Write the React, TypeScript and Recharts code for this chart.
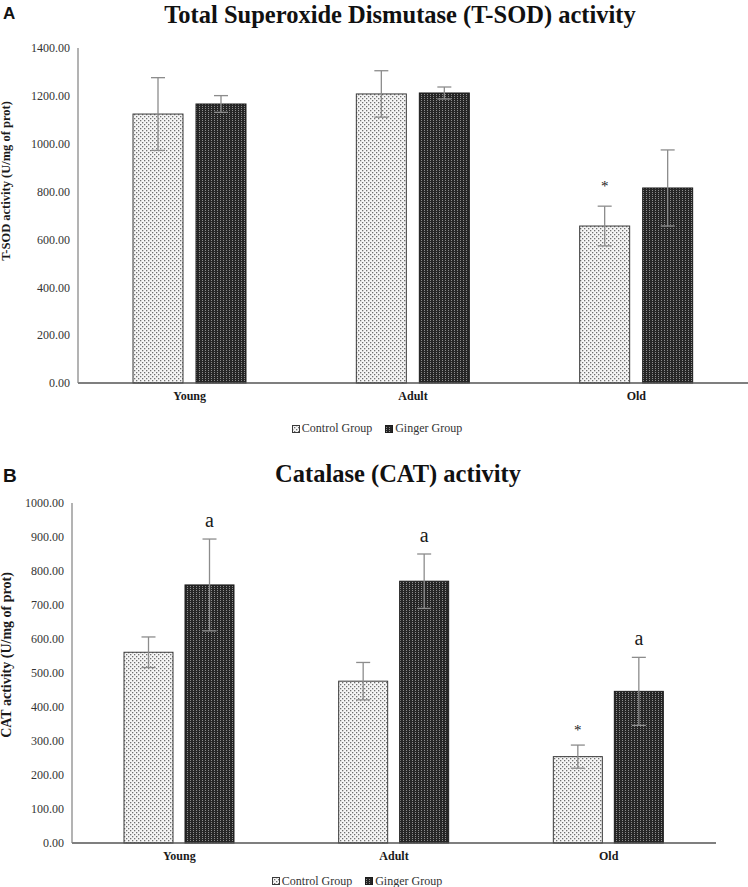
import React from 'react';
import { BarChart, Bar, XAxis, YAxis, ErrorBar, Legend } from 'recharts';

const categories = ['Young', 'Adult', 'Old'];
const seriesNames = ['Control Group', 'Ginger Group'];

const sodControl = [1124, 1208, 656];
const sodControlErr = [152, 97, 83];
const sodGinger = [1166, 1212, 815];
const sodGingerErr = [35, 25, 159];
const sodControlMarks = ['', '', '*'];
const sodGingerMarks = ['', '', ''];
const sodTicks = [0, 200, 400, 600, 800, 1000, 1200, 1400];

const catControl = [561, 476, 254];
const catControlErr = [45, 55, 34];
const catGinger = [759, 770, 446];
const catGingerErr = [135, 80, 100];
const catControlMarks = ['', '', '*'];
const catGingerMarks = ['a', 'a', 'a'];
const catTicks = [0, 100, 200, 300, 400, 500, 600, 700, 800, 900, 1000];

const SERIF = "'Liberation Serif', 'Times New Roman', serif";
const SANS = "'Liberation Sans', Arial, sans-serif";

function buildRows(c: number[], ce: number[], g: number[], ge: number[], cm: string[], gm: string[]) {
  return categories.map((name, i) => ({
    name,
    control: c[i],
    controlErr: ce[i],
    ginger: g[i],
    gingerErr: ge[i],
    controlMark: cm[i],
    gingerMark: gm[i],
  }));
}

const sodRows = buildRows(sodControl, sodControlErr, sodGinger, sodGingerErr, sodControlMarks, sodGingerMarks);
const catRows = buildRows(catControl, catControlErr, catGinger, catGingerErr, catControlMarks, catGingerMarks);

const FILLS = ['url(#pCtrl)', 'url(#pGinger)'];
const STROKES = ['#3a3a3a', '#1c1c1c'];

const makeShape = (
  fill: string,
  stroke: string,
  valueKey: string,
  errKey: string,
  markKey: string,
  starGap: number,
  letterGap: number
) => (props: any) => {
  const { x, y, width, height, payload } = props;
  const value = payload[valueKey];
  const err = payload[errKey];
  const mark = payload[markKey];
  const errTop = value ? y - (err * height) / value : y;
  const isStar = mark === '*';
  return (
    <g>
      <rect x={x} y={y} width={width} height={height} fill={fill} stroke={stroke} strokeWidth={1} />
      {mark ? (
        <text
          x={x + width / 2}
          y={errTop - (isStar ? starGap : letterGap)}
          textAnchor="middle"
          fontFamily={SERIF}
          fontSize={isStar ? 15 : 20}
          fill="#1a1a1a"
        >
          {mark}
        </text>
      ) : null}
    </g>
  );
};

const LegendBox = ({ shift, height }: { shift: number; height: number }) => (
  <div
    style={{
      display: 'flex',
      justifyContent: 'center',
      alignItems: 'center',
      height,
      transform: `translateX(${shift}px)`,
      fontFamily: SERIF,
      fontSize: 12,
      color: '#333',
      lineHeight: `${height}px`,
    }}
  >
    {seriesNames.map((n, i) => (
      <div key={n} style={{ display: 'flex', alignItems: 'center', marginRight: i === 0 ? 13 : 0 }}>
        <svg width={8} height={8} style={{ marginRight: 2 }}>
          <rect x={0.5} y={0.5} width={7} height={7} fill={FILLS[i]} stroke={STROKES[i]} strokeWidth={1} />
        </svg>
        <span>{n}</span>
      </div>
    ))}
  </div>
);

const axisLabel = (text: string, x: number, y: number, size: number) => ({
  content: () => (
    <text
      x={x}
      y={y}
      transform={`rotate(-90 ${x} ${y})`}
      textAnchor="middle"
      fontFamily={SERIF}
      fontWeight="bold"
      fontSize={size}
      fill="#1a1a1a"
    >
      {text}
    </text>
  ),
});

const tickStyle = { fontFamily: SERIF, fontSize: 12, fill: '#333' };
const catTickStyle = { fontFamily: SERIF, fontSize: 12, fill: '#1a1a1a', fontWeight: 'bold' as const };

export default function App() {
  return (
    <div style={{ position: 'absolute', left: 0, top: 0, width: 748, height: 887, overflow: 'hidden', background: '#fff' }}>
      <svg width={0} height={0} style={{ position: 'absolute' }}>
        <defs>
          <pattern id="pCtrl" width={4} height={4} patternUnits="userSpaceOnUse">
            <rect width={4} height={4} fill="#f6f6f6" />
            <rect x={0} y={0} width={1.3} height={1.3} fill="#707070" />
            <rect x={2} y={2} width={1.3} height={1.3} fill="#707070" />
          </pattern>
          <pattern id="pGinger" width={3} height={2} patternUnits="userSpaceOnUse">
            <rect width={3} height={2} fill="#262626" />
            <rect x={1} y={0} width={1} height={1} fill="#8c8c8c" />
          </pattern>
        </defs>
      </svg>

      <div style={{ position: 'absolute', left: 0, top: 0 }}>
        <BarChart width={748} height={445} data={sodRows} margin={{ top: 48, right: 0, left: 0, bottom: 4 }} barGap={13}>
          <XAxis
            dataKey="name"
            height={33}
            tickLine={false}
            axisLine={{ stroke: '#555', strokeWidth: 1.3 }}
            tick={catTickStyle}
            interval={0}
          />
          <YAxis
            width={78}
            domain={[0, 1400]}
            ticks={sodTicks}
            interval={0}
            tickFormatter={(v: number) => v.toFixed(2)}
            tickLine={false}
            axisLine={{ stroke: '#808080', strokeWidth: 1.2 }}
            tick={tickStyle}
            label={axisLabel('T-SOD activity (U/mg of prot)', 10, 181, 12.5)}
          />
          <Legend
            verticalAlign="bottom"
            height={25}
            wrapperStyle={{ left: 0, width: 748 }}
            content={() => <LegendBox shift={3} height={25} />}
          />
          <Bar
            dataKey="control"
            name={seriesNames[0]}
            barSize={50}
            isAnimationActive={false}
            shape={makeShape(FILLS[0], STROKES[0], 'control', 'controlErr', 'controlMark', 15, 12)}
          >
            <ErrorBar dataKey="controlErr" width={7} stroke="#8c8c8c" strokeWidth={1.3} direction="y" isAnimationActive={false} />
          </Bar>
          <Bar
            dataKey="ginger"
            name={seriesNames[1]}
            barSize={50}
            isAnimationActive={false}
            shape={makeShape(FILLS[1], STROKES[1], 'ginger', 'gingerErr', 'gingerMark', 15, 12)}
          >
            <ErrorBar dataKey="gingerErr" width={7} stroke="#8c8c8c" strokeWidth={1.3} direction="y" isAnimationActive={false} />
          </Bar>
        </BarChart>
      </div>

      <div style={{ position: 'absolute', left: 0, top: 460 }}>
        <BarChart width={748} height={427} data={catRows} margin={{ top: 43, right: 32, left: 0, bottom: 0 }} barGap={12}>
          <XAxis
            dataKey="name"
            height={32}
            tickLine={false}
            axisLine={{ stroke: '#555', strokeWidth: 1.3 }}
            tick={catTickStyle}
            interval={0}
          />
          <YAxis
            width={72}
            domain={[0, 1000]}
            ticks={catTicks}
            interval={0}
            tickFormatter={(v: number) => v.toFixed(2)}
            tickLine={false}
            axisLine={{ stroke: '#808080', strokeWidth: 1.2 }}
            tick={tickStyle}
            label={axisLabel('CAT activity (U/mg of prot)', 10.5, 195, 14)}
          />
          <Legend
            verticalAlign="bottom"
            height={12}
            wrapperStyle={{ left: 0, width: 748 }}
            content={() => <LegendBox shift={-17} height={12} />}
          />
          <Bar
            dataKey="control"
            name={seriesNames[0]}
            barSize={49}
            isAnimationActive={false}
            shape={makeShape(FILLS[0], STROKES[0], 'control', 'controlErr', 'controlMark', 10, 12)}
          >
            <ErrorBar dataKey="controlErr" width={7} stroke="#8c8c8c" strokeWidth={1.3} direction="y" isAnimationActive={false} />
          </Bar>
          <Bar
            dataKey="ginger"
            name={seriesNames[1]}
            barSize={49}
            isAnimationActive={false}
            shape={makeShape(FILLS[1], STROKES[1], 'ginger', 'gingerErr', 'gingerMark', 10, 12)}
          >
            <ErrorBar dataKey="gingerErr" width={7} stroke="#8c8c8c" strokeWidth={1.3} direction="y" isAnimationActive={false} />
          </Bar>
        </BarChart>
      </div>

      <svg width={748} height={887} style={{ position: 'absolute', left: 0, top: 0, pointerEvents: 'none' }}>
        <text x={3} y={19} fontFamily={SANS} fontWeight="bold" fontSize={17} fill="#111">A</text>
        <text x={400} y={22.5} textAnchor="middle" fontFamily={SERIF} fontWeight="bold" fontSize={24.5} fill="#111">
          Total Superoxide Dismutase (T-SOD) activity
        </text>
        <text x={3} y={482} fontFamily={SANS} fontWeight="bold" fontSize={19} fill="#111">B</text>
        <text x={398} y={482} textAnchor="middle" fontFamily={SERIF} fontWeight="bold" fontSize={24.5} fill="#111">
          Catalase (CAT) activity
        </text>
      </svg>
    </div>
  );
}
